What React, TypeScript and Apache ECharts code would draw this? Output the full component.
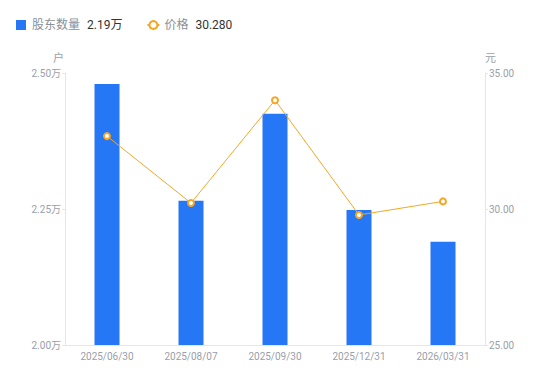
import React, { useEffect, useRef } from "react";
import * as echarts from "echarts";

const categories = ["2025/06/30", "2025/08/07", "2025/09/30", "2025/12/31", "2026/03/31"];
const holders = [2.48, 2.265, 2.425, 2.248, 2.19]; // 万户
const prices = [32.68, 30.22, 34.0, 29.78, 30.28]; // 元
const leftTicks = { min: 2.0, max: 2.5, interval: 0.25 };
const rightTicks = { min: 25, max: 35, interval: 5 };

export default function App() {
  const ref = useRef<HTMLDivElement>(null);
  useEffect(() => {
    const chart = echarts.init(ref.current!, undefined, { renderer: "svg" });
    const lastH = holders[holders.length - 1];
    const lastP = prices[prices.length - 1];
    chart.setOption({
      animation: false,
      textStyle: { fontFamily: "Roboto, 'Noto Sans CJK SC', sans-serif" },
      legend: {
        left: 11,
        top: 14,
        itemWidth: 12,
        itemHeight: 10,
        itemGap: 24,
        symbolKeepAspect: true,
        data: [
          { name: "股东数量", icon: "path://M0,0h10v10h-10z" },
          { name: "价格" },
        ],
        formatter: (name: string) =>
          name === "股东数量"
            ? `{n|${name}}{v|${lastH.toFixed(2)}万}`
            : `{n|${name}}{v|${lastP.toFixed(3)}}`,
        textStyle: {
          rich: {
            n: { color: "#8a8f99", fontSize: 12, padding: [0, 7, 0, 0] },
            v: { color: "#333333", fontSize: 12 },
          },
        },
      },
      grid: { left: 65, right: 65, top: 73, bottom: 36 },
      xAxis: {
        type: "category",
        data: categories,
        axisLine: { lineStyle: { color: "#e4e6ea" } },
        axisTick: { show: false },
        axisLabel: { color: "#9a9ea8", fontSize: 10, margin: 6 },
      },
      yAxis: [
        {
          type: "value",
          name: "户",
          nameGap: 9,
          nameTextStyle: { color: "#9a9ea8", fontSize: 11, align: "right", padding: [0, 1, 0, 0] },
          min: leftTicks.min,
          max: leftTicks.max,
          interval: leftTicks.interval,
          axisLine: { show: true, lineStyle: { color: "#e4e6ea" } },
          axisTick: { show: true, length: 3, lineStyle: { color: "#e4e6ea" } },
          splitLine: { show: false },
          axisLabel: {
            color: "#9a9ea8",
            fontSize: 10,
            margin: 4,
            formatter: (v: number) => v.toFixed(2) + "万",
          },
        },
        {
          type: "value",
          name: "元",
          nameGap: 9,
          nameTextStyle: { color: "#9a9ea8", fontSize: 11, align: "left" },
          min: rightTicks.min,
          max: rightTicks.max,
          interval: rightTicks.interval,
          axisLine: { show: true, lineStyle: { color: "#e4e6ea" } },
          axisTick: { show: true, length: 3, lineStyle: { color: "#e4e6ea" } },
          splitLine: { show: false },
          axisLabel: {
            color: "#9a9ea8",
            fontSize: 10,
            margin: 4,
            formatter: (v: number) => v.toFixed(2),
          },
        },
      ],
      series: [
        {
          name: "股东数量",
          type: "bar",
          yAxisIndex: 0,
          data: holders,
          barWidth: 25,
          itemStyle: { color: "#2677f5" },
        },
        {
          name: "价格",
          type: "line",
          yAxisIndex: 1,
          data: prices,
          symbol: "circle",
          symbolSize: 6,
          lineStyle: { color: "#f5a623", width: 1 },
          itemStyle: { color: "#ffffff", borderColor: "#f5a623", borderWidth: 2 },
        },
      ],
    });
    return () => chart.dispose();
  }, []);
  return <div ref={ref} style={{ width: 550, height: 381, position: "absolute", left: 0, top: 0 }} />;
}
